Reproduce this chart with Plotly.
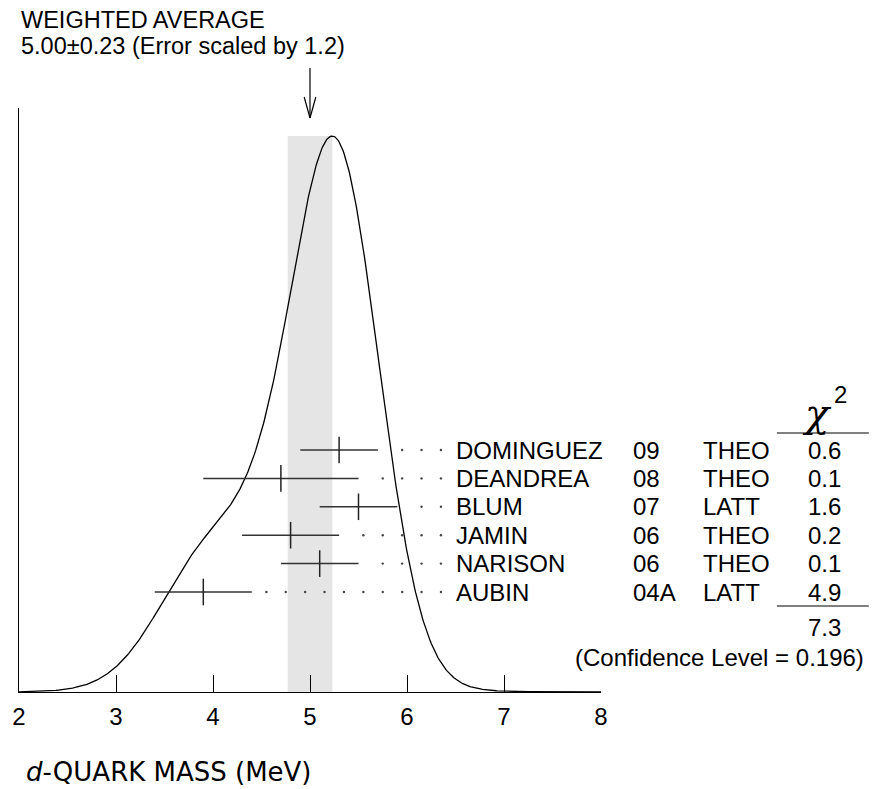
import numpy as np
import plotly.graph_objects as go

# ---------------- data ----------------
names = ["DOMINGUEZ", "DEANDREA", "BLUM", "JAMIN", "NARISON", "AUBIN"]
years = ["09", "08", "07", "06", "06", "04A"]
kinds = ["THEO", "THEO", "LATT", "THEO", "THEO", "LATT"]
values = [5.3, 4.7, 5.5, 4.8, 5.1, 3.9]
errors = [0.4, 0.8, 0.4, 0.5, 0.4, 0.5]
chi2 = ["0.6", "0.1", "1.6", "0.2", "0.1", "4.9"]
chi2_total = "7.3"
conf_level = "0.196"
avg = 5.00
avg_err = 0.23
scale_factor = "1.2"
x_ticks = [2, 3, 4, 5, 6, 7, 8]

# ---------------- geometry helpers ----------------
W, H = 872, 789
L, R = 12, 601           # plot x pixel extents
T, B = 108, 692          # plot y pixel extents
PW, PH = R - L, B - T


def px(x):
    return (x - L) / PW


def py(y):
    return (B - y) / PH


# ideogram: gaussians with area proportional to 1/sigma
xs = np.linspace(2, 8, 601)
ideo = np.zeros_like(xs)
for v, e in zip(values, errors):
    ideo += (1.0 / e) * np.exp(-0.5 * ((xs - v) / e) ** 2) / (e * np.sqrt(2 * np.pi))
peak = ideo.max()
ymax = peak / py(136)

n = len(names)
rows = list(range(n, 0, -1))   # DOMINGUEZ on top
row_px0, row_step = 592.0, 28.4
y2_lo = 1 - (B - row_px0) / row_step
y2_hi = 1 + (row_px0 - T) / row_step

fig = go.Figure()

fig.add_shape(type="rect", xref="x", yref="y", x0=avg - avg_err, x1=avg + avg_err,
              y0=0, y1=peak, fillcolor="#e5e5e5", line=dict(width=0), layer="below")

fig.add_trace(go.Scatter(x=xs, y=ideo, mode="lines",
                         line=dict(color="black", width=1.3), hoverinfo="skip"))

# dotted leaders
dot_grid = np.round(np.arange(4.55, 6.36, 0.2), 2)
dx, dy = [], []
for v, e, r in zip(values, errors, rows):
    for g in dot_grid:
        if g > v + e + 0.1:
            dx.append(g)
            dy.append(r)
fig.add_trace(go.Scatter(x=dx, y=dy, yaxis="y2", mode="markers",
                         marker=dict(size=2.4, color="#444444"), hoverinfo="skip"))

fig.add_trace(go.Scatter(
    x=values, y=rows, yaxis="y2", mode="markers",
    marker=dict(symbol="line-ns-open", size=19, color="#222222",
                line=dict(color="#222222", width=1.5)),
    error_x=dict(type="data", array=errors, visible=True, width=0, thickness=1.5, color="#333333"),
    hoverinfo="skip"))

# arrow pointing at weighted average
shaft_top, shaft_bot, wing_y = py(68), py(118), py(97)
arrow = dict(color="black", width=1.2)
fig.add_shape(type="line", xref="x", yref="paper", x0=avg, x1=avg, y0=shaft_top, y1=shaft_bot, line=arrow)
fig.add_shape(type="line", xref="x", yref="paper", x0=avg - 0.06, x1=avg, y0=wing_y, y1=shaft_bot, line=arrow)
fig.add_shape(type="line", xref="x", yref="paper", x0=avg + 0.06, x1=avg, y0=wing_y, y1=shaft_bot, line=arrow)

FONT = "Liberation Sans, Arial, Helvetica, sans-serif"
fs = 24
ann = []


def text(t, x, y, xanchor="left", size=fs, yref="paper", family=FONT):
    ann.append(dict(text=t, x=x, y=y, xref="paper", yref=yref, xanchor=xanchor,
                    yanchor="middle", showarrow=False,
                    font=dict(family=family, size=size, color="black")))


text("WEIGHTED AVERAGE", px(12), py(20), size=23.5)
text(f"{avg:.2f}\u00b1{avg_err:.2f} (Error scaled by {scale_factor})", px(12), py(46), size=23.5)

for nm, yr, k, c, r in zip(names, years, kinds, chi2, rows):
    text(nm, px(452), r, yref="y2")
    text(yr, px(631), r, yref="y2")
    text(k, px(702), r, yref="y2")
    text(c, px(827), r, xanchor="center", yref="y2")

text("<i>\u03c7</i>", px(820), py(413), xanchor="center", size=40, family="DejaVu Serif, serif")
text("2", px(843), py(394), xanchor="center", size=24)
text(chi2_total, px(827), py(627), xanchor="center")
text(f"(Confidence Level = {conf_level})", px(869), py(657), xanchor="right")
text("<i>d</i>-QUARK MASS (MeV)", px(17), py(772), size=26, family="DejaVu Sans, sans-serif")

for yy in (433, 606):
    fig.add_shape(type="line", xref="paper", yref="paper", x0=px(779), x1=px(872),
                  y0=py(yy), y1=py(yy), line=dict(color="black", width=1.2))

fig.update_layout(
    width=W, height=H, plot_bgcolor="white", paper_bgcolor="white",
    margin=dict(l=L, r=W - R, t=T, b=H - B), showlegend=False,
    xaxis=dict(range=[2, 8], tickvals=x_ticks, ticks="inside", ticklen=17, tickwidth=1.2,
               tickcolor="black", showline=True, linecolor="black", linewidth=1.3,
               showgrid=False, zeroline=False, ticklabelstandoff=3,
               tickfont=dict(family=FONT, size=24, color="black")),
    yaxis=dict(range=[0, ymax], showline=True, linecolor="black", linewidth=1.3,
               showticklabels=False, ticks="", showgrid=False, zeroline=False),
    yaxis2=dict(range=[y2_lo, y2_hi], overlaying="y", visible=False),
    annotations=ann,
)

fig.write_html("out.html", config={"displayModeBar": False},
               post_script="document.body.style.margin='0';")
